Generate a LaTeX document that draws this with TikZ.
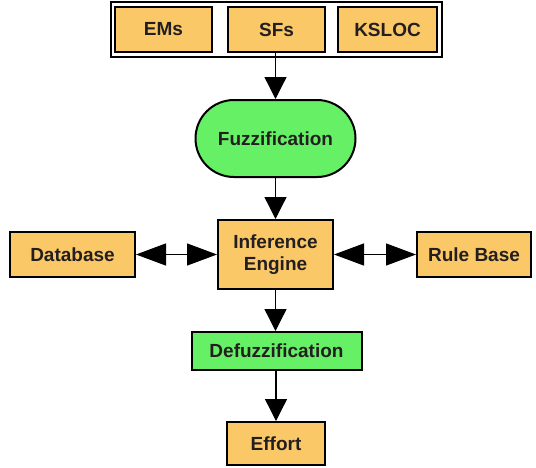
\documentclass[tikz,border=0pt]{standalone}
\usepackage{fontspec}
\setmainfont{Liberation Sans}
\usetikzlibrary{arrows.meta,shapes.misc}
\definecolor{boxorange}{RGB}{251,200,104}
\definecolor{boxgreen}{RGB}{102,240,102}
\definecolor{txt}{RGB}{35,31,32}
\begin{document}
\begin{tikzpicture}[x=1pt,y=-1pt,
  base/.style={draw=black,line width=2pt,font=\fontsize{19}{21.5}\selectfont\bfseries,text=txt,inner sep=0pt,align=center},
  obox/.style={base,fill=boxorange},
  gbox/.style={base,fill=boxgreen},
  conn/.style={line width=1.3pt,-{Triangle[length=22pt,width=22pt]}},
  dconn/.style={line width=1.3pt,{Triangle[length=30pt,width=22pt]}-{Triangle[length=30pt,width=22pt]}}]
\useasboundingbox (0,0) rectangle (536,467);
\node[draw=black,line width=1.6pt,fill=white,minimum width=331pt,minimum height=55pt] (outer) at (276.5,29.5) {};
\node[obox,minimum width=97pt,minimum height=45pt] (ems) at (163.5,29.5) {EMs};
\node[obox,minimum width=97pt,minimum height=45pt] (sfs) at (276.5,29.5) {SFs};
\node[obox,minimum width=99pt,minimum height=45pt] (ksloc) at (387.5,29.5) {KSLOC};
\node[gbox,rounded rectangle,minimum width=160pt,minimum height=77pt] (fuzz) at (275.5,138.5) {Fuzzification};
\node[obox,minimum width=115pt,minimum height=69pt] (inf) at (275.5,254.5) {Inference\\Engine};
\node[obox,minimum width=125pt,minimum height=45pt] (db) at (72.5,254.5) {Database};
\node[obox,minimum width=114pt,minimum height=45pt] (rb) at (474,254.5) {Rule Base};
\node[gbox,minimum width=170pt,minimum height=38pt] (defuzz) at (276.5,351) {Defuzzification};
\node[obox,minimum width=98pt,minimum height=43pt] (effort) at (276,443.5) {Effort};
\draw[conn] (sfs.south -| fuzz.north) -- (fuzz.north);
\draw[conn] (fuzz.south) -- (inf.north);
\draw[conn] (inf.south) -- (defuzz.north -| inf.south);
\draw[conn] (defuzz.south -| effort.north) -- (effort.north);
\draw[dconn] (db.east) -- (inf.west);
\draw[dconn] (inf.east) -- (rb.west);
\end{tikzpicture}
\end{document}
